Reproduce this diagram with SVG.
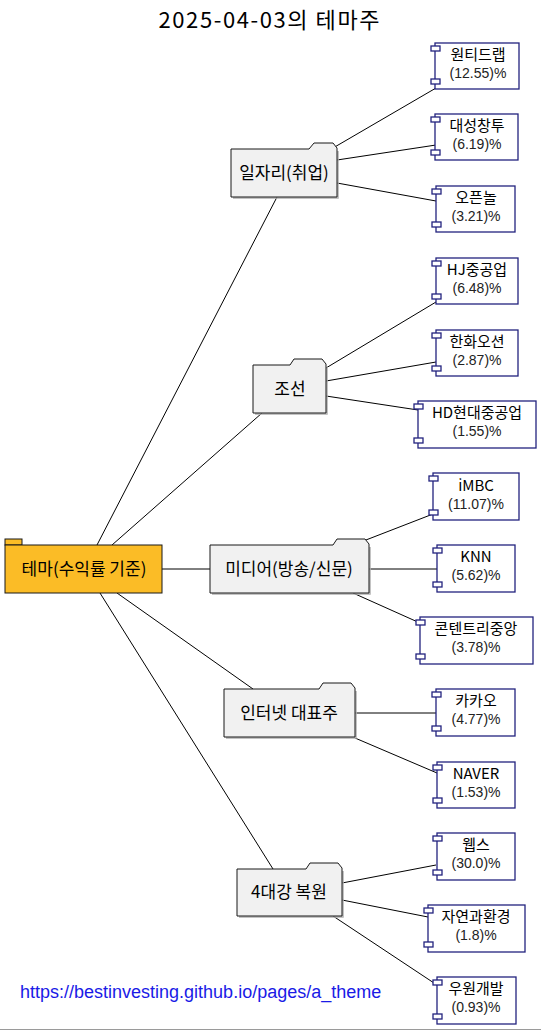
<svg xmlns="http://www.w3.org/2000/svg" width="541" height="1031" viewBox="0 0 541 1031">
<style>
text{font-family:"Noto Sans CJK KR","Noto Sans",sans-serif;}
.title{font-size:22px;fill:#000;text-anchor:middle;}
.cat{fill:#F1F1F1;stroke:#181818;stroke-width:1;}
.sh{fill:none;stroke:#b0b0b0;stroke-width:1.5;}
.ct{font-size:17px;fill:#000;text-anchor:middle;}
.comp{fill:#FFFFFF;stroke:#23237e;stroke-width:1.3;}
.port{fill:#FFFFFF;stroke:#23237e;stroke-width:1.3;}
.n1{font-size:15px;fill:#000;text-anchor:middle;}
.n2{font-family:"Liberation Sans",Arial,sans-serif;font-size:14px;fill:#222;text-anchor:middle;}
.edge{stroke:#000;stroke-width:1;fill:none;}
.link{font-family:"Liberation Sans",Arial,sans-serif;font-size:18px;fill:#1a1ae6;}
</style>
<rect x="0" y="0" width="541" height="1031" fill="#FFFFFF"/>
<text class="title" x="269" y="28" textLength="221" lengthAdjust="spacing">2025-04-03의 테마주</text>

<g id="connectors">
<line class="edge" x1="97" y1="545" x2="277" y2="197"/>
<line class="edge" x1="112" y1="545" x2="262" y2="413"/>
<line class="edge" x1="162" y1="569" x2="210" y2="569"/>
<line class="edge" x1="117" y1="593" x2="253" y2="689"/>
<line class="edge" x1="100" y1="593" x2="273" y2="869"/>
<line class="edge" x1="333" y1="148" x2="436" y2="88"/>
<line class="edge" x1="337" y1="160" x2="436" y2="145"/>
<line class="edge" x1="337" y1="183" x2="436" y2="201"/>
<line class="edge" x1="326" y1="368" x2="436" y2="302"/>
<line class="edge" x1="326" y1="381" x2="436" y2="362"/>
<line class="edge" x1="326" y1="396" x2="418" y2="410"/>
<line class="edge" x1="353" y1="545" x2="433" y2="514"/>
<line class="edge" x1="369" y1="569" x2="437" y2="569"/>
<line class="edge" x1="353" y1="593" x2="420" y2="623"/>
<line class="edge" x1="355" y1="713" x2="436" y2="713"/>
<line class="edge" x1="355" y1="738" x2="437" y2="773"/>
<line class="edge" x1="342" y1="883" x2="436" y2="865"/>
<line class="edge" x1="342" y1="900" x2="428" y2="917"/>
<line class="edge" x1="333" y1="916" x2="437" y2="985"/>
</g>

<g id="root">
<rect x="5" y="539" width="17" height="6" fill="#FBBC26" stroke="#181818"/>
<rect x="5" y="545" width="157" height="48" fill="#FBBC26" stroke="#181818"/>
<text class="ct" x="84" y="575">테마(수익률 기준)</text>
</g>

<g id="cat1">
<path class="sh" d="M338,151 L338,198 L233,198"/>
<path class="cat" d="M231,149 L309,149 L314,143 L333,143 L337,148 L337,197 L231,197 Z"/>
<text class="ct" x="284" y="179">일자리(취업)</text>
</g>
<g id="cat2">
<path class="sh" d="M327,367 L327,414 L255,414"/>
<path class="cat" d="M253,365 L290,365 L294,359 L322,359 L326,364 L326,413 L253,413 Z"/>
<text class="ct" x="290" y="395">조선</text>
</g>
<g id="cat3">
<path class="sh" d="M370,547 L370,594 L212,594"/>
<path class="cat" d="M210,545 L333,545 L337,539 L365,539 L369,544 L369,593 L210,593 Z"/>
<text class="ct" x="289" y="575">미디어(방송/신문)</text>
</g>
<g id="cat4">
<path class="sh" d="M356,691 L356,738 L226,738"/>
<path class="cat" d="M224,689 L319,689 L323,683 L351,683 L355,688 L355,737 L224,737 Z"/>
<text class="ct" x="289" y="719">인터넷 대표주</text>
</g>
<g id="cat5">
<path class="sh" d="M343,871 L343,917 L239,917"/>
<path class="cat" d="M237,869 L306,869 L310,863 L338,863 L342,868 L342,916 L237,916 Z"/>
<text class="ct" x="289" y="898">4대강 복원</text>
</g>

<g id="c1"><rect class="comp" x="435" y="43" width="84" height="46"/><rect class="port" x="431" y="46" width="9" height="5"/><rect class="port" x="431" y="79" width="9" height="5"/><text class="n1" x="478" y="60">원티드랩</text><text class="n2" x="478" y="78">(12.55)%</text></g>
<g id="c2"><rect class="comp" x="435" y="114" width="83" height="46"/><rect class="port" x="431" y="117" width="9" height="5"/><rect class="port" x="431" y="150" width="9" height="5"/><text class="n1" x="477" y="131">대성창투</text><text class="n2" x="477" y="149">(6.19)%</text></g>
<g id="c3"><rect class="comp" x="436" y="186" width="79" height="46"/><rect class="port" x="432" y="189" width="9" height="5"/><rect class="port" x="432" y="222" width="9" height="5"/><text class="n1" x="476" y="203">오픈놀</text><text class="n2" x="476" y="221">(3.21)%</text></g>
<g id="c4"><rect class="comp" x="436" y="258" width="82" height="46"/><rect class="port" x="432" y="261" width="9" height="5"/><rect class="port" x="432" y="294" width="9" height="5"/><text class="n1" x="477" y="275">HJ중공업</text><text class="n2" x="477" y="293">(6.48)%</text></g>
<g id="c5"><rect class="comp" x="436" y="330" width="82" height="46"/><rect class="port" x="432" y="333" width="9" height="5"/><rect class="port" x="432" y="366" width="9" height="5"/><text class="n1" x="477" y="347">한화오션</text><text class="n2" x="477" y="365">(2.87)%</text></g>
<g id="c6"><rect class="comp" x="418" y="401" width="118" height="47"/><rect class="port" x="414" y="404" width="9" height="5"/><rect class="port" x="414" y="438" width="9" height="5"/><text class="n1" x="477" y="418">HD현대중공업</text><text class="n2" x="477" y="436">(1.55)%</text></g>
<g id="c7"><rect class="comp" x="433" y="473" width="86" height="47"/><rect class="port" x="429" y="476" width="9" height="5"/><rect class="port" x="429" y="510" width="9" height="5"/><text class="n1" x="476" y="491">iMBC</text><text class="n2" x="476" y="509">(11.07)%</text></g>
<g id="c8"><rect class="comp" x="437" y="545" width="78" height="47"/><rect class="port" x="433" y="548" width="9" height="5"/><rect class="port" x="433" y="582" width="9" height="5"/><text class="n1" x="476" y="562">KNN</text><text class="n2" x="476" y="580">(5.62)%</text></g>
<g id="c9"><rect class="comp" x="420" y="617" width="113" height="47"/><rect class="port" x="416" y="620" width="9" height="5"/><rect class="port" x="416" y="654" width="9" height="5"/><text class="n1" x="476" y="634">콘텐트리중앙</text><text class="n2" x="476" y="652">(3.78)%</text></g>
<g id="c10"><rect class="comp" x="436" y="689" width="79" height="47"/><rect class="port" x="432" y="692" width="9" height="5"/><rect class="port" x="432" y="726" width="9" height="5"/><text class="n1" x="476" y="706">카카오</text><text class="n2" x="476" y="724">(4.77)%</text></g>
<g id="c11"><rect class="comp" x="437" y="762" width="78" height="46"/><rect class="port" x="433" y="765" width="9" height="5"/><rect class="port" x="433" y="798" width="9" height="5"/><text class="n1" x="476" y="779">NAVER</text><text class="n2" x="476" y="797">(1.53)%</text></g>
<g id="c12"><rect class="comp" x="437" y="833" width="78" height="47"/><rect class="port" x="433" y="836" width="9" height="5"/><rect class="port" x="433" y="870" width="9" height="5"/><text class="n1" x="476" y="850">웹스</text><text class="n2" x="476" y="868">(30.0)%</text></g>
<g id="c13"><rect class="comp" x="428" y="905" width="97" height="47"/><rect class="port" x="424" y="908" width="9" height="5"/><rect class="port" x="424" y="942" width="9" height="5"/><text class="n1" x="476" y="922">자연과환경</text><text class="n2" x="476" y="940">(1.8)%</text></g>
<g id="c14"><rect class="comp" x="437" y="977" width="79" height="47"/><rect class="port" x="433" y="980" width="9" height="5"/><rect class="port" x="433" y="1014" width="9" height="5"/><text class="n1" x="476" y="994">우원개발</text><text class="n2" x="476" y="1012">(0.93)%</text></g>

<text class="link" x="20" y="998">https://bestinvesting.github.io/pages/a_theme</text>
<line x1="0" y1="1029.5" x2="541" y2="1029.5" stroke="#9a9a9a" stroke-width="1"/>
</svg>
